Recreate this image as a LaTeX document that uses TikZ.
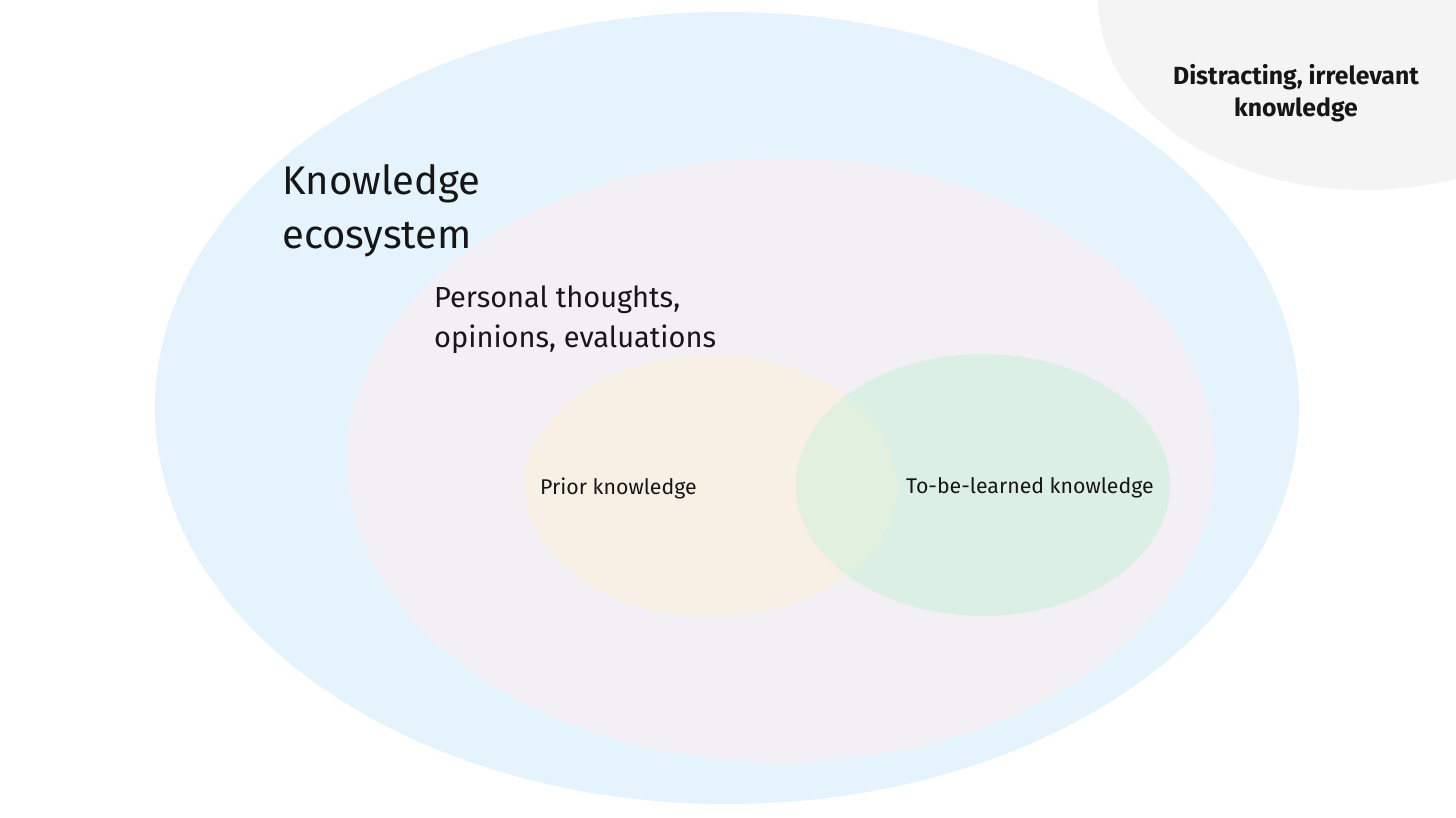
\documentclass[tikz,border=0pt]{standalone}
\usepackage{fontspec}
\setmainfont{Fira Sans}
\setsansfont{Fira Sans}
\definecolor{eco}{HTML}{E5F4FC}
\definecolor{distr}{HTML}{F4F4F4}
\definecolor{pers}{HTML}{F2F0F5}
\definecolor{prior}{HTML}{F8F0E4}
\definecolor{tobe}{HTML}{DCEFE5}
\definecolor{both}{HTML}{E2F0DF}
\definecolor{ink}{HTML}{161616}
\tikzset{
  blob/.style={draw=none},
  lbl/.style={text=ink, inner sep=0pt, align=left},
}
\begin{document}
\begin{tikzpicture}[x=1pt,y=-1pt]
\useasboundingbox (0,0) rectangle (1456,818);
\clip (0,0) rectangle (1456,818);
\fill[white] (0,0) rectangle (1456,818);
% ellipses
\fill[eco] (727,408) ellipse [x radius=572, y radius=396];
\fill[distr] (1365,0) ellipse [x radius=267, y radius=190];
\fill[pers] (781,460) ellipse [x radius=434, y radius=302];
\fill[prior] (711,486) ellipse [x radius=186, y radius=131];
\fill[tobe] (983,485) ellipse [x radius=187, y radius=131];
\begin{scope}
  \clip (711,486) ellipse [x radius=186, y radius=131];
  \fill[both] (983,485) ellipse [x radius=187, y radius=131];
\end{scope}
% labels
\node[lbl, anchor=north west, font=\fontsize{40}{54}\selectfont] (eco) at (282,164) {Knowledge\\ecosystem};
\node[lbl, anchor=north west, font=\fontsize{29}{40}\selectfont] (pers) at (434,286) {Personal thoughts,\\opinions, evaluations};
\node[lbl, anchor=west, font=\fontsize{21.3}{24}\selectfont] (prior) at (540,488) {Prior knowledge};
\node[lbl, anchor=west, font=\fontsize{21.3}{24}\selectfont] (tobe) at (906,488) {To-be-learned knowledge};
\node[lbl, align=center, font=\bfseries\fontsize{24.8}{32}\selectfont] (distr) at (1296,93) {Distracting, irrelevant\\knowledge};
\end{tikzpicture}
\end{document}
